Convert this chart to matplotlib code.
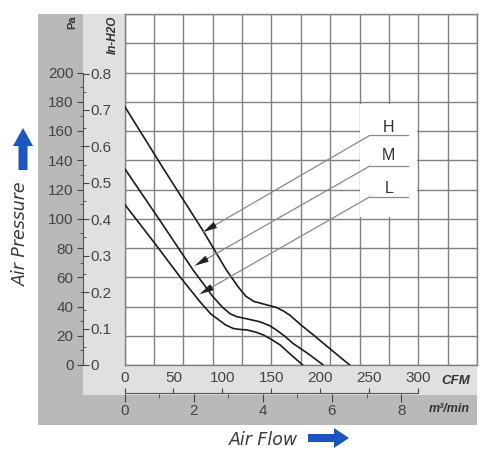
import numpy as np
import matplotlib
matplotlib.use('Agg')
import matplotlib.pyplot as plt
from matplotlib.patches import Rectangle, Polygon

plt.rcParams['font.family'] = ['Liberation Sans Narrow', 'Liberation Sans', 'DejaVu Sans']

# fan curves: air flow (CFM) vs static pressure (Pa)
h_cfm = [0, 40, 80, 104, 116, 124, 132, 142, 155, 162, 169, 180, 193, 210, 230]
h_pa = [177, 134, 92, 65, 53.5, 47, 43.5, 41.7, 39.4, 37, 34, 27.5, 20.5, 11, 0]
m_cfm = [0, 35, 70, 90, 100, 108, 115, 122, 138, 148, 155, 164, 172, 188, 203]
m_pa = [134.5, 100, 65, 47, 39.5, 35, 33, 32, 29.6, 27, 24, 19.5, 14.8, 7.5, 0]
l_cfm = [0, 30, 57, 77, 88, 95, 103, 111, 118, 125, 134, 142, 150, 159, 170, 182]
l_pa = [110, 84, 60, 43.3, 35, 31.5, 27.5, 25, 24.3, 24, 22.5, 20.5, 17.5, 13.7, 7, 0]

curve_names = ['H', 'M', 'L']

pa_ticks = [0, 20, 40, 60, 80, 100, 120, 140, 160, 180, 200]
pa_minor = [10, 30, 50, 70, 90, 110, 130, 150, 170, 190]
inh2o_ticks = [0, 0.1, 0.2, 0.3, 0.4, 0.5, 0.6, 0.7, 0.8]
inh2o_labels = ['0', '0.1', '0.2', '0.3', '0.4', '0.5', '0.6', '0.7', '0.8']
inh2o_minor = [0.05, 0.15, 0.25, 0.35, 0.45, 0.55, 0.65, 0.75]
cfm_ticks = [0, 50, 100, 150, 200, 250, 300]
m3_ticks = [0, 2, 4, 6, 8]
m3_minor = [1, 3, 5, 7]

PA_PER_INH2O = 249.089
M3MIN_PER_CFM = 0.0283168

W, H = 500, 472


def fx(x):
    return x / W


def fy(y):
    return 1 - y / H


fig = plt.figure(figsize=(W / 100, H / 100), dpi=100)

# grey frame behind the scales
fig.add_artist(Rectangle((fx(38), fy(425)), fx(477) - fx(38), fy(14) - fy(425),
                         transform=fig.transFigure, facecolor='#b9b9b9', edgecolor='none', zorder=-2))
fig.add_artist(Rectangle((fx(83), fy(395)), fx(477) - fx(83), fy(14) - fy(395),
                         transform=fig.transFigure, facecolor='#e0e0e0', edgecolor='none', zorder=-1))

grid_col = '#808080'
ax = fig.add_axes([fx(124.5), fy(365), fx(477) - fx(124.5), fy(14) - fy(365)])
ax.set_xlim(0, 360)
ax.set_ylim(0, 240)
ax.set_xticks(np.arange(0, 361, 30))
ax.set_yticks(np.arange(0, 241, 20))
ax.tick_params(length=0, labelbottom=False, labelleft=False)
ax.grid(True, color=grid_col, lw=1.0)
ax.set_axisbelow(True)
for s in ax.spines.values():
    s.set_color(grid_col)
    s.set_linewidth(1.0)

# blank cell behind the curve labels
ax.add_patch(Rectangle((241, 101.5), 58, 77, facecolor='white', edgecolor='none', zorder=1))

for xs, ys in [(h_cfm, h_pa), (m_cfm, m_pa), (l_cfm, l_pa)]:
    ax.plot(xs, ys, color='#1c1c1c', lw=1.2, zorder=3)

# leader lines: (arrow tip, start y, label y)
leaders = [((80.5, 91), 157, 162.5), ((72, 68), 136, 143), ((77, 48.5), 115, 121)]
lead_col = '#8a8a8a'
for name, ((tx, ty), sy, ly) in zip(curve_names, leaders):
    sx = 250.5
    ax.plot([sx, 289.5], [sy, sy], color=lead_col, lw=0.9, zorder=3)
    ax.annotate('', xy=(tx, ty), xytext=(sx, sy),
                arrowprops=dict(arrowstyle='-', color=lead_col, lw=0.9, shrinkA=0, shrinkB=0), zorder=3)
    hx, hy = tx + 0.07 * (sx - tx), ty + 0.07 * (sy - ty)
    ax.annotate('', xy=(tx, ty), xytext=(hx, hy),
                arrowprops=dict(arrowstyle='-|>,head_length=0.8,head_width=0.2', color='#222222',
                                lw=0.8, shrinkA=0, shrinkB=0, mutation_scale=10), zorder=4)
    ax.text(270, ly, name, ha='center', va='center', fontsize=11.5, family='Liberation Sans',
            color='#333333', zorder=4)

tick_col = '#444444'

# left scale: Pa (left side) and inH2O (right side)
axp = fig.add_axes([fx(82.5), fy(365), 0.0004, fy(14) - fy(365)])
axp.set_facecolor('none')
axp.set_ylim(0, 240)
axp.set_xticks([])
for side in ['top', 'right', 'bottom']:
    axp.spines[side].set_visible(False)
axp.spines['left'].set_bounds(0, 200)
axp.spines['left'].set_color('#555555')
axp.set_yticks(pa_ticks)
axp.set_yticks(pa_minor, minor=True)
axp.tick_params(axis='y', which='major', length=4.3, pad=2.2, labelsize=11, colors=tick_col)
axp.tick_params(axis='y', which='minor', length=2.2, colors=tick_col)

axi = axp.twinx()
axi.set_ylim(0, 240 / PA_PER_INH2O)
for s in axi.spines.values():
    s.set_visible(False)
axi.set_yticks(inh2o_ticks)
axi.set_yticklabels(inh2o_labels)
axi.set_yticks(inh2o_minor, minor=True)
axi.tick_params(axis='y', which='major', length=4.3, pad=1.4, labelsize=11, colors=tick_col)
axi.tick_params(axis='y', which='minor', length=2.2, colors=tick_col)

# bottom scale: CFM (above the line) and m3/min (below)
axb = fig.add_axes([fx(124.5), fy(393.5), fx(477) - fx(124.5), 0.0004])
axm = axb.twiny()  # twiny resets axb's ticks, so set both up afterwards

axb.set_facecolor('none')
axb.set_xlim(0, 360)
axb.set_yticks([])
for side in ['left', 'right', 'bottom']:
    axb.spines[side].set_visible(False)
axb.spines['top'].set_bounds(0, 300)
axb.spines['top'].set_color('#555555')
axb.set_xticks(cfm_ticks)
axb.xaxis.set_ticks_position('top')
axb.tick_params(axis='x', which='major', top=True, labeltop=True, bottom=False, labelbottom=False,
                length=3.6, pad=2.2, labelsize=11, colors=tick_col)

axm.set_xlim(0, 360 * M3MIN_PER_CFM)
for s in axm.spines.values():
    s.set_visible(False)
axm.set_xticks(m3_ticks)
axm.set_xticks(m3_minor, minor=True)
axm.xaxis.set_ticks_position('bottom')
axm.tick_params(axis='x', which='major', bottom=True, labelbottom=True, top=False, labeltop=False,
                length=5.8, pad=1.8, labelsize=11, colors=tick_col)
axm.tick_params(axis='x', which='minor', bottom=True, top=False, length=2.9, colors=tick_col)

# unit captions
unit_kw = dict(ha='center', va='center', family='Liberation Sans', color='#333333',
               fontweight='bold')
fig.text(fx(72), fy(22), 'Pa', rotation=90, fontsize=8, **unit_kw)
fig.text(fx(112.5), fy(35), 'In-H2O', rotation=90, fontsize=8.5, style='italic', **unit_kw)
fig.text(fx(456), fy(381), 'CFM', fontsize=9.5, style='italic', **unit_kw)
fig.text(fx(449), fy(409), 'm³/min', fontsize=9, style='italic', **unit_kw)

# axis titles with blue arrows
title_kw = dict(ha='center', va='center', family='DejaVu Sans', style='italic',
                fontsize=12.5, color='#3a3a3a')
fig.text(fx(21), fy(234), 'Air Pressure', rotation=90, **title_kw)
fig.text(fx(263), fy(440), 'Air Flow', **title_kw)

blue = '#1a55c0'
up = [(23, 128), (33, 146), (27.5, 146), (27.5, 170), (18.5, 170), (18.5, 146), (13, 146)]
right = [(349, 438), (334, 448), (334, 442), (308, 442), (308, 434), (334, 434), (334, 428)]
for pts in (up, right):
    fig.add_artist(Polygon([(fx(x), fy(y)) for x, y in pts], closed=True,
                           transform=fig.transFigure, facecolor=blue, edgecolor='none'))

fig.savefig('out.png', dpi=100)
